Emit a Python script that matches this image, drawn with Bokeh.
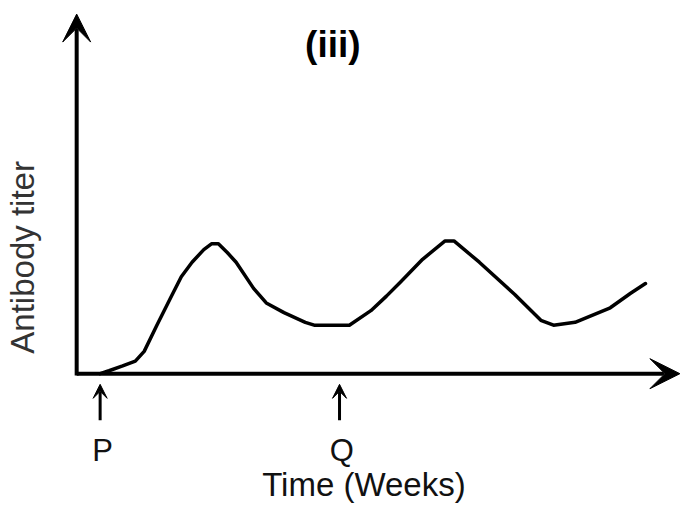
from bokeh.plotting import figure
from bokeh.models import Range1d, Arrow, VeeHead, Label
from bokeh.embed import file_html
from bokeh.resources import INLINE

# Curve data (time in weeks, antibody titer in arbitrary units)
weeks = [0.08, 0.45, 1.02, 1.55, 1.92, 2.45, 3.02, 3.47, 3.92, 4.41, 4.73, 5.02,
         5.39, 5.76, 6.49, 7.02, 7.76, 8.65, 9.02, 10.49, 11.39, 12.04, 12.65,
         13.55, 14.49, 14.86, 15.92, 17.39, 18.49, 19.02, 19.92, 21.39, 22.24, 22.86]
titer = [0.0, 0.3, 0.8, 1.3, 2.3, 5.0, 7.8, 10.0, 11.5, 12.8, 13.4, 13.4,
         12.5, 11.5, 8.8, 7.3, 6.3, 5.3, 5.0, 5.0, 6.5, 8.0, 9.5,
         11.8, 13.7, 13.7, 11.5, 8.2, 5.5, 5.0, 5.3, 6.8, 8.3, 9.3]

# Marker arrows (P = first dose, Q = second dose)
marker_labels = ["P", "Q"]
marker_weeks = [0.08, 10.08]

title_text = "(iii)"
x_label = "Time (Weeks)"
y_label = "Antibody titer"

x_axis_start, x_axis_end = -0.9, 24.3
y_axis_end = 37.1

p = figure(width=683, height=505, output_backend="svg", toolbar_location=None,
           x_range=Range1d(-4.082, 24.449), y_range=Range1d(-13.6, 38.5),
           min_border=0, x_axis_location=None, y_axis_location=None)
p.outline_line_color = None
p.grid.visible = False
p.background_fill_color = "white"

# axes with arrowheads
p.add_layout(Arrow(end=VeeHead(size=30, fill_color="black", line_color="black", line_width=1),
                   x_start=x_axis_start, y_start=0, x_end=x_axis_end, y_end=0,
                   line_width=4, line_color="black"))
p.add_layout(Arrow(end=VeeHead(size=28, fill_color="black", line_color="black", line_width=1),
                   x_start=x_axis_start, y_start=-0.2, x_end=x_axis_start, y_end=y_axis_end,
                   line_width=4, line_color="black"))

# curve
p.line(weeks, titer, line_width=3.5, line_color="black", line_join="round", line_cap="round")

# P / Q markers
for lab, w in zip(marker_labels, marker_weeks):
    p.add_layout(Arrow(end=VeeHead(size=14, fill_color="black", line_color="black", line_width=1),
                       x_start=w, y_start=-4.8, x_end=w, y_end=-1.1,
                       line_width=3, line_color="black"))
    p.add_layout(Label(x=w + 0.1, y=-7.9, text=lab, text_align="center",
                       text_baseline="middle", text_font="Liberation Sans",
                       text_font_size="31px", text_color="#111111"))

p.add_layout(Label(x=9.8, y=34.0, text=title_text, text_align="center",
                   text_baseline="middle", text_font="Liberation Sans",
                   text_font_style="bold", text_font_size="37px", text_color="black"))
p.add_layout(Label(x=11.1, y=-11.4, text=x_label, text_align="center",
                   text_baseline="middle", text_font="Liberation Sans",
                   text_font_size="33px", text_color="#111111"))
p.add_layout(Label(x=-3.18, y=12.0, text=y_label, text_align="center",
                   text_baseline="middle", angle=1.5708, text_font="Liberation Sans",
                   text_font_size="33px", text_color="#333333"))

open("out.html", "w").write(file_html(p, INLINE))
